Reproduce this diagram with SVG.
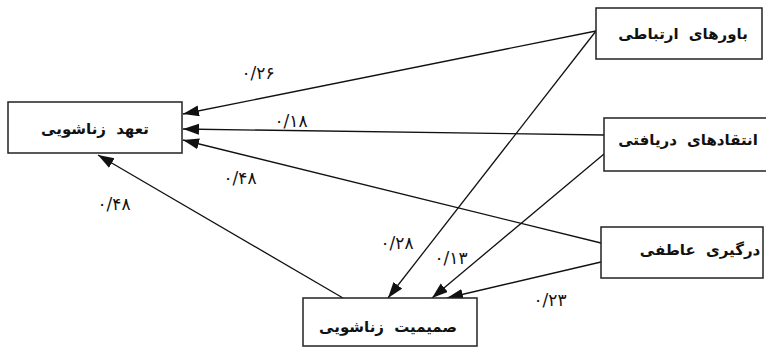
<svg xmlns="http://www.w3.org/2000/svg" width="766" height="351" viewBox="0 0 766 351">
<style>
.box{fill:#fff;stroke:#222;stroke-width:1.5}
.lbl{font-family:"DejaVu Sans",sans-serif;font-size:15px;font-weight:bold;fill:#111;text-anchor:middle;dominant-baseline:central;word-spacing:5px}
.num{font-family:"DejaVu Sans",sans-serif;font-size:17px;fill:#111;text-anchor:middle;dominant-baseline:central;letter-spacing:3px}
.ln{stroke:#111;stroke-width:1.3;fill:none;marker-end:url(#ah)}
</style>
<defs>
<marker id="ah" markerUnits="userSpaceOnUse" markerWidth="17" markerHeight="12" refX="16" refY="5.5" orient="auto">
<path d="M0,0 L16,5.5 L0,11 Z" fill="#111"/>
</marker>
</defs>
<rect width="766" height="351" fill="#fff"/>
<g id="connectors">
<line class="ln" x1="596" y1="31" x2="183" y2="114"/>
<line class="ln" x1="604" y1="135" x2="183" y2="129"/>
<line class="ln" x1="601" y1="243" x2="183" y2="140"/>
<line class="ln" x1="343" y1="298" x2="98" y2="155"/>
<line class="ln" x1="596" y1="31" x2="388" y2="298"/>
<line class="ln" x1="604" y1="154" x2="432" y2="298"/>
<line class="ln" x1="601" y1="262" x2="447" y2="298"/>
<text class="num" x="258" y="73">۰/۲۶</text>
<text class="num" x="291" y="121">۰/۱۸</text>
<text class="num" x="240" y="178">۰/۴۸</text>
<text class="num" x="114" y="204">۰/۴۸</text>
<text class="num" x="397" y="243">۰/۲۸</text>
<text class="num" x="451" y="258">۰/۱۳</text>
<text class="num" x="550" y="300">۰/۲۳</text>
</g>
<g id="commitment">
<rect class="box" x="8" y="102" width="174" height="51"/>
<text class="lbl" x="95" y="129">تعهد زناشویی</text>
</g>
<g id="beliefs">
<rect class="box" x="596" y="8" width="166" height="51"/>
<text class="lbl" x="683" y="34">باورهای ارتباطی</text>
</g>
<g id="criticism">
<rect class="box" x="604" y="118" width="170" height="53"/>
<text class="lbl" x="688" y="140">انتقادهای دریافتی</text>
</g>
<g id="involvement">
<rect class="box" x="601" y="227" width="162" height="51"/>
<text class="lbl" x="700" y="250">درگیری عاطفی</text>
</g>
<g id="intimacy">
<rect class="box" x="303" y="298" width="174" height="48"/>
<text class="lbl" x="388" y="327">صمیمیت زناشویی</text>
</g>
</svg>
